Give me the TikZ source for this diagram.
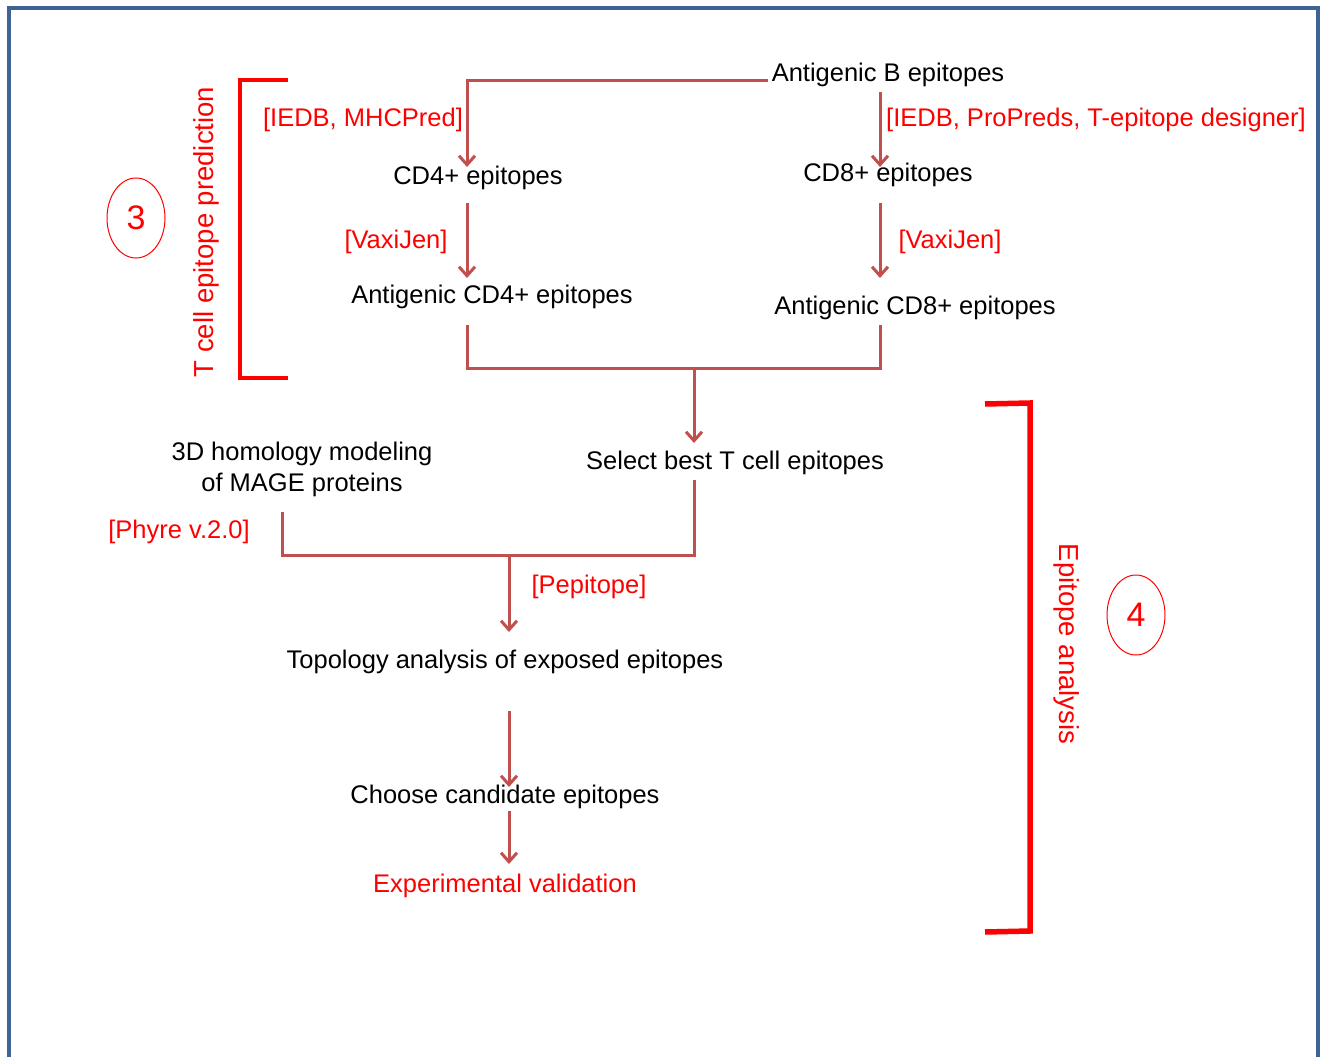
\documentclass[tikz,border=0pt]{standalone}
\usepackage{fontspec}
\setmainfont{Liberation Sans}
\usepackage{tikz}
\usetikzlibrary{arrows.meta,shapes.geometric}
\definecolor{frameblue}{RGB}{62,100,150}
\definecolor{flowred}{RGB}{192,80,77}
\definecolor{toolred}{RGB}{255,0,0}

\begin{document}
\begin{tikzpicture}[x=1pt, y=-1pt,
  every node/.style={inner sep=0pt, font=\fontsize{25.5}{31}\selectfont},
  stagetext/.style={text=black, align=center},
  tooltext/.style={text=toolred},
  sidetext/.style={text=toolred, font=\fontsize{27.5}{33}\selectfont},
  flow/.style={draw=flowred, line width=3pt, -{Straight Barb[length=9pt,width=16pt]}},
  link/.style={draw=flowred, line width=3pt, line join=miter},
  bracket/.style={draw=toolred, line width=4.5pt},
  stagenum/.style={ellipse, draw=toolred, line width=1pt, minimum width=58pt,
    minimum height=80pt, text=toolred, font=\fontsize{34}{40}\selectfont}]
\useasboundingbox (0,0) rectangle (1326,1057);
%%%%% Frame %%%%%
\draw[frameblue, line width=3.5pt] (9,1070) -- (9,8) -- (1318,8) -- (1318,1070);

%%%%% Stages %%%%%
\node[stagetext] (agB) at (888,75) {Antigenic B epitopes};
\node[stagetext] (cd4) at (478,178) {CD4+ epitopes};
\node[stagetext] (cd8) at (888,175) {CD8+ epitopes};
\node[stagetext] (agcd4) at (492,297) {Antigenic CD4+ epitopes};
\node[stagetext] (agcd8) at (915,308) {Antigenic CD8+ epitopes};
\node[stagetext] (best) at (735,463) {Select best T cell epitopes};
\node[stagetext] (homol) at (302,469) {3D homology modeling\\of MAGE proteins};
\node[stagetext] (topo) at (505,662) {Topology analysis of exposed epitopes};
\node[stagetext] (choose) at (505,797) {Choose candidate epitopes};
\node[tooltext] (valid) at (505,886) {Experimental validation};

%%%%% Tools %%%%%
\node[tooltext] (mhc) at (363,120) {[IEDB, MHCPred]};
\node[tooltext] (propred) at (1096,120) {[IEDB, ProPreds, T-epitope designer]};
\node[tooltext] (vax4) at (396,242) {[VaxiJen]};
\node[tooltext] (vax8) at (950,242) {[VaxiJen]};
\node[tooltext] (phyre) at (179,532) {[Phyre v.2.0]};
\node[tooltext] (pepi) at (589,587) {[Pepitope]};

%%%%% Brackets %%%%%
\draw[bracket] (288,80) -- (240,80) -- (240,378) -- (288,378);
\node[sidetext, rotate=90] (tpred) at (206,232) {T cell epitope prediction};
\node[stagenum] (num3) at (136,218) {3};
\draw[bracket, line width=5.5pt] (985,404) -- (1030,403) -- (1030,931) -- (985,932);
\node[sidetext, rotate=-90] (epian) at (1067,644) {Epitope analysis};
\node[stagenum] (num4) at (1136,615) {4};

%%%%% Connectors %%%%%
\coordinate (bout) at (768,81);
\coordinate (cd4in) at (467,167);
\coordinate (cd8out) at (880,92);
\coordinate (cd8in) at (880,167);
\coordinate (cd4out) at (467,203);
\coordinate (agcd4in) at (467,278);
\coordinate (cd8down) at (880,203);
\coordinate (agcd8in) at (880,278);
\coordinate (agcd4out) at (467,325);
\coordinate (agcd8out) at (880,325);
\coordinate (tjoin) at (694,368);
\coordinate (bestin) at (694,443);
\coordinate (homolout) at (282,512);
\coordinate (bestout) at (694,480);
\coordinate (mjoin) at (509,555);
\coordinate (topoin) at (509,632);
\coordinate (topoout) at (509,711);
\coordinate (choosein) at (509,787);
\coordinate (chooseout) at (509,811);
\coordinate (validin) at (509,864);

\draw[flow] (bout) -| (cd4in);
\draw[flow] (cd8out) -- (cd8in);
\draw[flow] (cd4out) -- (agcd4in);
\draw[flow] (cd8down) -- (agcd8in);
\draw[link] (agcd4out) |- (tjoin) -| (agcd8out);
\draw[flow] (tjoin) -- (bestin);
\draw[link] (homolout) |- (mjoin) -| (bestout);
\draw[flow] (mjoin) -- (topoin);
\draw[flow] (topoout) -- (choosein);
\draw[flow] (chooseout) -- (validin);
\end{tikzpicture}
\end{document}
